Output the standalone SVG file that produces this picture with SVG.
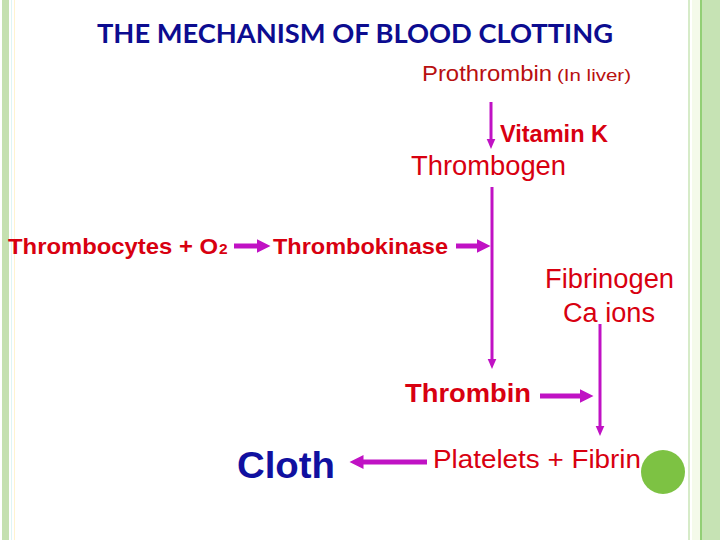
<svg xmlns="http://www.w3.org/2000/svg" width="720" height="540" viewBox="0 0 720 540">
  <style>
    .t { font-family: "Liberation Sans", Arial, sans-serif; fill: #d80010; }
    .b { font-weight: bold; }
    .c { stroke: #c012c4; fill: none; stroke-linecap: butt; }
    .thin { stroke-width: 3; }
    .thick { stroke-width: 5; }
  </style>
  <defs>
    <marker id="hs" markerUnits="userSpaceOnUse" viewBox="0 -5 11 10" refX="0.5" refY="0" markerWidth="11" markerHeight="10" orient="auto">
      <path d="M0,-4.5 L10.5,0 L0,4.5 z" fill="#c012c4"/>
    </marker>
    <marker id="hl" markerUnits="userSpaceOnUse" viewBox="0 -8 15 16" refX="0.5" refY="0" markerWidth="15" markerHeight="16" orient="auto">
      <path d="M0,-7 L14,0 L0,7 z" fill="#c012c4"/>
    </marker>
  </defs>

  <rect width="720" height="540" fill="#ffffff"/>
  <g id="frame">
    <rect x="2" y="0" width="7" height="540" fill="#c5e0b0"/>
    <rect x="11" y="0" width="1" height="540" fill="#dff5f5"/>
    <rect x="14" y="0" width="1" height="540" fill="#fff3d0"/>
    <rect x="688" y="0" width="2" height="540" fill="#d6ebc8"/>
    <rect x="692" y="0" width="8" height="540" fill="#f4faea"/>
    <rect x="700" y="0" width="2" height="540" fill="#92cf75"/>
    <rect x="702" y="0" width="18" height="540" fill="#c6e3b4"/>
  </g>

  <g id="title">
    <text x="97" y="43" font-family="Lato, 'Open Sans', sans-serif" font-weight="bold" font-size="27.5" fill="#0c0c90" textLength="516" lengthAdjust="spacingAndGlyphs">THE MECHANISM OF BLOOD CLOTTING</text>
  </g>

  <g id="connectors">
    <line class="c thin" x1="491" y1="102" x2="491" y2="139" marker-end="url(#hs)"/>
    <line class="c thin" x1="492" y1="187" x2="492" y2="359" marker-end="url(#hs)"/>
    <line class="c thick" x1="234" y1="246" x2="257" y2="246" marker-end="url(#hl)"/>
    <line class="c thick" x1="456" y1="246" x2="477" y2="246" marker-end="url(#hl)"/>
    <line class="c thin" x1="600" y1="324" x2="600" y2="426" marker-end="url(#hs)"/>
    <line class="c thick" x1="540" y1="396" x2="580" y2="396" marker-end="url(#hl)"/>
    <line class="c thick" x1="427" y1="462" x2="363" y2="462" marker-end="url(#hl)"/>
  </g>

  <g id="prothrombin">
    <text class="t" x="422" y="81" font-size="22" style="fill:#b81010" textLength="130" lengthAdjust="spacingAndGlyphs">Prothrombin</text>
    <text class="t" x="557" y="81" font-size="17" style="fill:#b81010" textLength="74" lengthAdjust="spacingAndGlyphs">(In liver)</text>
  </g>
  <g id="vitamin-k">
    <text class="t b" x="500" y="142" font-size="23" textLength="108" lengthAdjust="spacingAndGlyphs">Vitamin K</text>
  </g>
  <g id="thrombogen">
    <text class="t" x="411" y="175" font-size="27" textLength="155" lengthAdjust="spacingAndGlyphs">Thrombogen</text>
  </g>
  <g id="thrombocytes">
    <text class="t b" x="8" y="254" font-size="22.5"><tspan textLength="210" lengthAdjust="spacingAndGlyphs">Thrombocytes + O</tspan><tspan x="219" font-size="15.5">2</tspan></text>
  </g>
  <g id="thrombokinase">
    <text class="t b" x="273" y="254" font-size="22.5" textLength="175" lengthAdjust="spacingAndGlyphs">Thrombokinase</text>
  </g>
  <g id="fibrinogen">
    <text class="t" x="545" y="288" font-size="27" textLength="129" lengthAdjust="spacingAndGlyphs">Fibrinogen</text>
    <text class="t" x="563" y="322" font-size="27" textLength="92" lengthAdjust="spacingAndGlyphs">Ca ions</text>
  </g>
  <g id="thrombin">
    <text class="t b" x="405" y="402" font-size="26.5" textLength="126" lengthAdjust="spacingAndGlyphs">Thrombin</text>
  </g>
  <g id="cloth">
    <text class="t b" x="237" y="478" font-size="37" style="fill:#1010a0" textLength="98" lengthAdjust="spacingAndGlyphs">Cloth</text>
  </g>
  <g id="platelets-fibrin">
    <text class="t" x="433" y="468" font-size="26.5" textLength="208" lengthAdjust="spacingAndGlyphs">Platelets + Fibrin</text>
  </g>
  <g id="dot">
    <circle cx="663" cy="472" r="22" fill="#7dc243"/>
  </g>
</svg>
